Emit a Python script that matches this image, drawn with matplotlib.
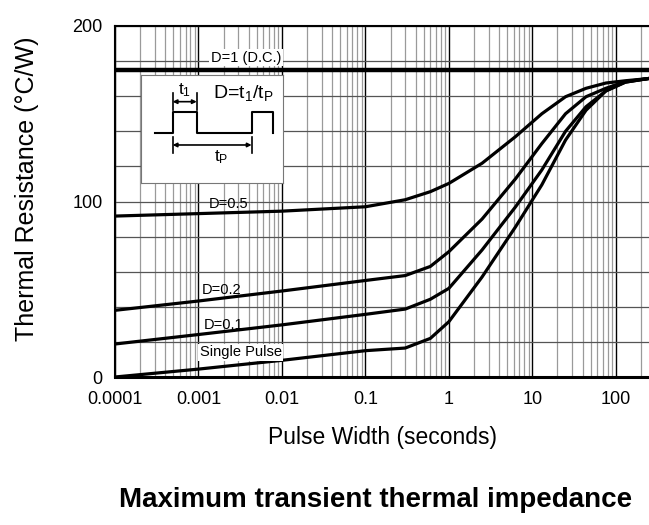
import matplotlib.pyplot as plt
import numpy as np

plt.rcParams['font.family'] = ['Liberation Sans', 'DejaVu Sans']
plt.rcParams['mathtext.default'] = 'regular'

# pulse width (s) and thermal resistance (C/W)
pulse_width = [1e-4, 1e-3, 0.01, 0.1, 0.3, 0.6, 1, 2.5, 6.3, 13, 25, 44, 76, 130, 240]
d_05 = [91.7, 93.1, 94.5, 97, 101, 105.6, 110.3, 121.8, 137, 150, 159.7, 164.5, 167.5, 168.8, 170]
d_02 = [38, 43.3, 49, 55, 57.8, 63, 71.4, 90, 113, 133, 150, 159.7, 164.5, 168.3, 170]
d_01 = [18.8, 24.2, 29.7, 35.7, 38.7, 44.3, 50.5, 72.4, 97, 118, 140, 154, 163, 168, 170]
single = [0, 4.5, 9.5, 15, 16.5, 22, 31.5, 57, 85.6, 109.5, 135, 152, 163, 168, 170]
d_dc = 175

xtick_vals = [1e-4, 1e-3, 1e-2, 1e-1, 1, 10, 100]
xtick_labels = ['0.0001', '0.001', '0.01', '0.1', '1', '10', '100']
ytick_vals = [0, 100, 200]

fig = plt.figure(figsize=(6.49, 5.25), dpi=100)
ax = fig.add_axes([115/649, 1-377/525, 534/649, 351/525])

ax.set_xscale('log')

# grid: decades black, minor decades grey, horizontal every 20
ax.set_xticks(xtick_vals)
ax.set_xticklabels(xtick_labels)
minor = [m * 10.0**e for e in range(-4, 3) for m in range(2, 10)]
ax.set_xticks(minor, minor=True)
ax.set_xticklabels([], minor=True)
ax.set_yticks(ytick_vals)
ax.set_yticks(np.arange(20, 200, 20), minor=True)
ax.set_xlim(1e-4, 250)
ax.set_ylim(0, 200)
ax.grid(True, which='major', axis='x', color='black', lw=1.0)
ax.grid(True, which='minor', axis='x', color='#9a9a9a', lw=0.9)
ax.grid(True, which='both', axis='y', color='#555555', lw=0.9)
ax.tick_params(which='both', length=0)
ax.tick_params(axis='x', labelsize=13, pad=10)
ax.tick_params(axis='y', labelsize=13, pad=9)

for s in ['left', 'top']:
    ax.spines[s].set_linewidth(1.5)
ax.spines['bottom'].set_linewidth(2.2)
ax.spines['right'].set_visible(False)

ax.axhline(d_dc, color='black', lw=3.2)
for ys in [d_05, d_02, d_01, single]:
    ax.plot(pulse_width, ys, color='black', lw=2.3)

ax.text(0.0037, 182, 'D=1 (D.C.)', fontsize=10.5, ha='center', va='center',
        bbox=dict(facecolor='white', edgecolor='none', pad=1))
ax.text(0.0023, 98.5, 'D=0.5', fontsize=10.5, ha='center', va='center')
ax.text(0.0019, 49.5, 'D=0.2', fontsize=10.5, ha='center', va='center')
ax.text(0.0020, 29.5, 'D=0.1', fontsize=10.5, ha='center', va='center')
ax.text(0.0032, 14, 'Single Pulse', fontsize=10.5, ha='center', va='center',
        bbox=dict(facecolor='white', edgecolor='none', pad=1))

ax.set_ylabel('Thermal Resistance (°C/W)', fontsize=18)
ax.yaxis.set_label_coords(-0.143, 0.535)
ax.set_xlabel('Pulse Width (seconds)', fontsize=16.5, labelpad=13)
fig.text(376/649, 1-500/525, 'Maximum transient thermal impedance',
         fontsize=20, fontweight='bold', ha='center', va='center')

# duty cycle sketch
ins = fig.add_axes([140.7/649, 1-183/525, 142.6/649, 108/525])
ins.set_xlim(0, 1)
ins.set_ylim(0, 1)
ins.set_xticks([])
ins.set_yticks([])
for s in ins.spines.values():
    s.set_color('#777777')
    s.set_linewidth(0.8)
wx = [0.10, 0.224, 0.224, 0.393, 0.393, 0.778, 0.778, 0.93, 0.93]
wy = [0.46, 0.46, 0.66, 0.66, 0.46, 0.46, 0.66, 0.66, 0.46]
ins.plot(wx, wy, color='black', lw=1.5)
for x0, x1, ya, yt0, yt1 in [(0.224, 0.393, 0.753, 0.676, 0.83),
                            (0.224, 0.778, 0.352, 0.275, 0.43)]:
    ins.annotate('', xy=(x1, ya), xytext=(x0, ya),
                 arrowprops=dict(arrowstyle='<|-|>', lw=1.2, color='black',
                                 mutation_scale=6, shrinkA=0, shrinkB=0))
    ins.plot([x0, x0], [yt0, yt1], color='black', lw=1.2)
    ins.plot([x1, x1], [yt0, yt1], color='black', lw=1.2)
ins.text(0.31, 0.86, 't$_1$', fontsize=12.5, ha='center', va='center')
ins.text(0.72, 0.83, 'D=t$_1$/t$_P$', fontsize=14, ha='center', va='center')
ins.text(0.568, 0.24, 't$_P$', fontsize=12.5, ha='center', va='center')

fig.savefig('out.png', dpi=100)
